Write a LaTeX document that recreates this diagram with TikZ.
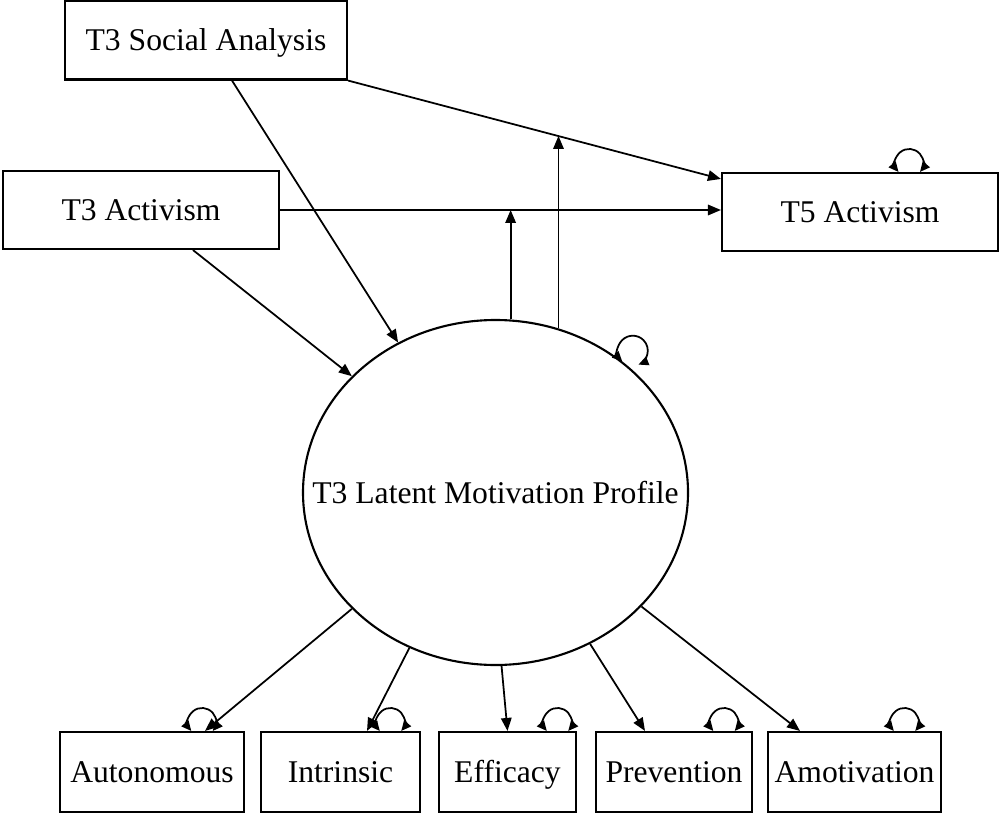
\documentclass[tikz,border=0pt]{standalone}
\usepackage{fontspec}
\setmainfont{Liberation Serif}
\usetikzlibrary{arrows.meta,calc,shapes.geometric}
\def\pxu{0.02cm}
\begin{document}
\begin{tikzpicture}[x=0.02cm,y=-0.02cm,
  lbl/.style={font=\fontsize{18}{21}\selectfont, text height=12.5pt, text depth=0pt},
  box/.style={lbl, draw, line width=1.2pt, rectangle, inner sep=0pt},
  path/.style={line width=1pt, -{Triangle[length=2.6mm,width=2.1mm]}},
  varloop/.style={line width=1pt,
    {Triangle[length=2mm,width=1.8mm]}-{Triangle[length=2mm,width=1.8mm]}},
]
\useasboundingbox (0,0) rectangle (1000,814);

% observed predictors and outcome
\node[box, minimum width=282*\pxu, minimum height=79*\pxu] (sa) at (206,40) {T3 Social Analysis};
\node[box, minimum width=276*\pxu, minimum height=78*\pxu] (act) at (141,210) {T3 Activism};
\node[box, minimum width=276*\pxu, minimum height=78*\pxu] (t5) at (860,212) {T5 Activism};

% latent profile
\node[draw, ellipse, line width=1.2pt, inner sep=0pt,
      minimum width=385*\pxu, minimum height=345*\pxu] (lmp) at (495.5,492.5) {};
\node[lbl] (lmptext) at (lmp.center) {T3 Latent Motivation Profile};

% indicators
\node[box, minimum width=184*\pxu, minimum height=80*\pxu] (auto) at (152,772) {Autonomous};
\node[box, minimum width=159*\pxu, minimum height=80*\pxu] (intr) at (340.5,772) {Intrinsic};
\node[box, minimum width=137*\pxu, minimum height=80*\pxu] (eff) at (507.5,772) {Efficacy};
\node[box, minimum width=156*\pxu, minimum height=80*\pxu] (prev) at (674,772) {Prevention};
\node[box, minimum width=173*\pxu, minimum height=80*\pxu] (amot) at (854.5,772) {Amotivation};

% structural paths
\draw[path] (sa.south east) -- coordinate[pos=0.563] (m) ($(t5.north west)+(0,7)$);
\draw[path] (act.east) -- (act.east -| t5.west);
\draw[path] ($(sa.south)+(26,0)$) -- (lmp.123);
\draw[path] ($(act.south)+(52,0)$) -- (lmp.141);
\draw[path] (lmp.85) -- (lmp.85 |- act.east);
\draw[path] (lmp.69) -- (lmp.69 |- m);

% measurement paths
\draw[path] (lmp.219) -- ($(auto.north)+(53,0)$);
\draw[path] (lmp.241) -- ($(intr.north)+(26.5,0)$);
\draw[path] (lmp.272) -- (eff.north);
\draw[path] (lmp.302) -- ($(prev.north)+(-29,0)$);
\draw[path] (lmp.322) -- ($(amot.north)+(-54.5,0)$);

% variances
\draw[varloop] ($(t5.north)+(38.5,0)$) arc[start angle=140,end angle=400,radius=14];
\draw[varloop] (lmp.46) arc[start angle=135,end angle=428,radius=15];
\draw[varloop] ($(auto.north)+(39.3,0)$) arc[start angle=140,end angle=400,radius=14];
\draw[varloop] ($(intr.north)+(39.3,0)$) arc[start angle=140,end angle=400,radius=14];
\draw[varloop] ($(eff.north)+(39.3,0)$) arc[start angle=140,end angle=400,radius=14];
\draw[varloop] ($(prev.north)+(39.3,0)$) arc[start angle=140,end angle=400,radius=14];
\draw[varloop] ($(amot.north)+(39.3,0)$) arc[start angle=140,end angle=400,radius=14];
\end{tikzpicture}
\end{document}
